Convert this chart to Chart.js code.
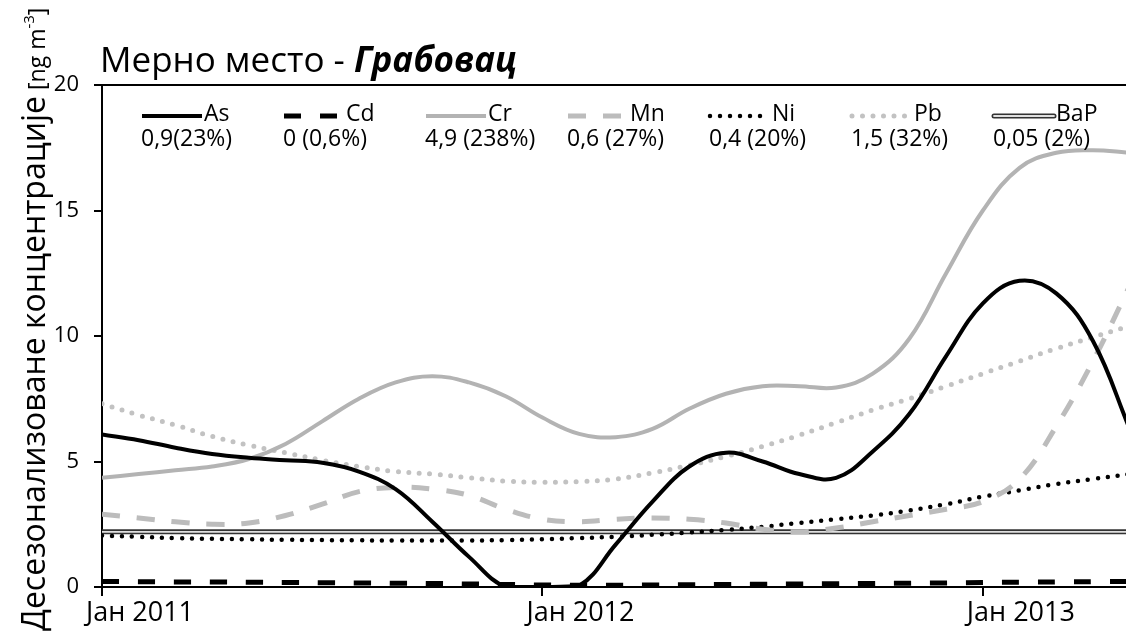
<!DOCTYPE html>
<html>
<head>
<meta charset="utf-8">
<script src="https://cdn.jsdelivr.net/npm/chart.js@4.4.1/dist/chart.umd.min.js"></script>
<style>
  html, body { margin: 0; padding: 0; background: #fff; }
  #wrap { width: 1126px; height: 631px; }
</style>
</head>
<body>
<div id="wrap"><canvas id="grabovac" width="1126" height="631"></canvas></div>
<script>
/* months since Jan 2011 */
const months = [0, 1, 2, 3, 4, 5, 6, 7, 8, 9, 10, 11, 12, 13, 14, 15, 16, 17, 18, 19, 20, 21, 22, 23, 24, 25, 26, 27, 28];
const tickMonths = [0, 12, 24];
const tickLabels = ['Јан 2011', 'Јан 2012', 'Јан 2013'];

const seriesNames = ['As', 'Cd', 'Cr', 'Mn', 'Ni', 'Pb', 'BaP'];
const legendValues = ['0,9(23%)', '0 (0,6%)', '4,9 (238%)', '0,6 (27%)', '0,4 (20%)', '1,5 (32%)', '0,05 (2%)'];

const asValues = [6.08, 5.85, 5.55, 5.3, 5.15, 5.05, 4.95, 4.6, 3.9, 2.6, 1.2, 0, 0, 0.05, 1.7, 3.4, 4.8, 5.35, 5.0, 4.5, 4.35, 5.4, 6.9, 9.2, 11.3, 12.2, 11.7, 9.8, 6.3];
const cdValues = [0.22, 0.21, 0.2, 0.2, 0.19, 0.18, 0.17, 0.16, 0.15, 0.14, 0.12, 0.1, 0.08, 0.07, 0.07, 0.08, 0.09, 0.1, 0.11, 0.12, 0.13, 0.14, 0.15, 0.16, 0.18, 0.19, 0.2, 0.21, 0.22];
const crValues = [4.35, 4.5, 4.65, 4.8, 5.1, 5.7, 6.6, 7.5, 8.15, 8.4, 8.15, 7.6, 6.75, 6.1, 5.97, 6.3, 7.1, 7.7, 8.0, 8.0, 7.95, 8.5, 9.9, 12.5, 15.0, 16.7, 17.3, 17.4, 17.3];
const mnValues = [2.9, 2.75, 2.6, 2.5, 2.55, 2.85, 3.3, 3.8, 3.97, 3.9, 3.65, 3.1, 2.7, 2.6, 2.7, 2.75, 2.7, 2.55, 2.3, 2.2, 2.35, 2.6, 2.85, 3.1, 3.4, 4.3, 6.4, 9.0, 12.0];
const niValues = [2.05, 2.0, 1.95, 1.92, 1.9, 1.88, 1.87, 1.86, 1.85, 1.85, 1.85, 1.87, 1.9, 1.95, 2.0, 2.08, 2.17, 2.27, 2.4, 2.55, 2.7, 2.85, 3.05, 3.3, 3.6, 3.85, 4.1, 4.3, 4.5];
const pbValues = [7.3, 6.85, 6.45, 6.0, 5.65, 5.35, 5.05, 4.8, 4.6, 4.5, 4.35, 4.22, 4.17, 4.2, 4.3, 4.55, 4.85, 5.2, 5.6, 6.05, 6.55, 7.05, 7.5, 8.0, 8.5, 9.0, 9.5, 9.95, 10.4];
const bapValues = [2.2, 2.2, 2.2, 2.2, 2.2, 2.2, 2.2, 2.2, 2.2, 2.2, 2.2, 2.2, 2.2, 2.2, 2.2, 2.2, 2.2, 2.2, 2.2, 2.2, 2.2, 2.2, 2.2, 2.2, 2.2, 2.2, 2.2, 2.2, 2.2];

const FONT = "'Open Sans', 'Noto Sans', sans-serif";

function pts(values) {
    return months.map((m, i) => ({ x: m, y: values[i] }));
}

function line(label, values, color, width, dash, cap, order) {
    return {
        label: label,
        data: pts(values),
        borderColor: color,
        borderWidth: width,
        borderDash: dash,
        borderCapStyle: cap || 'butt',
        fill: false,
        pointRadius: 0,
        tension: 0.4,
        order: order || 0
    };
}

/* titles + custom two line legend */
const decorPlugin = {
    id: 'decor',
    afterDraw(chart) {
        const ctx = chart.ctx;
        ctx.save();
        ctx.fillStyle = '#000';
        ctx.textBaseline = 'alphabetic';

        // title
        ctx.font = '35px ' + FONT;
        const t1 = 'Мерно место - ';
        ctx.fillText(t1, 100, 72);
        const w1 = ctx.measureText(t1).width;
        ctx.font = 'italic bold 35px ' + FONT;
        ctx.fillText('Грабовац', 100 + w1, 72);

        // y axis title, rotated
        ctx.save();
        ctx.translate(45, 631);
        ctx.rotate(-Math.PI / 2);
        ctx.font = '32px ' + FONT;
        const a = 'Десезонализоване концентрације';
        ctx.fillText(a, 0, 0);
        let x = ctx.measureText(a).width;
        ctx.font = '23px ' + FONT;
        const b = ' [ng m';
        ctx.fillText(b, x, 0);
        x += ctx.measureText(b).width;
        ctx.font = '15px ' + FONT;
        ctx.fillText('-3', x, -11);
        x += ctx.measureText('-3').width;
        ctx.font = '23px ' + FONT;
        ctx.fillText(']', x, 0);
        ctx.restore();

        // legend
        const ds = chart.data.datasets;
        const rowY = 116;
        for (let i = 0; i < seriesNames.length; i++) {
            const d = ds[i];
            const x0 = 142 + i * 142;
            const x1 = x0 + 60;
            ctx.save();
            ctx.beginPath();
            ctx.moveTo(x0, rowY);
            ctx.lineTo(x1, rowY);
            ctx.strokeStyle = d.borderColor;
            ctx.lineWidth = d.borderWidth;
            ctx.lineCap = d.borderCapStyle;
            ctx.setLineDash(d.borderDash || []);
            ctx.stroke();
            if (seriesNames[i] === 'BaP') {
                const inner = ds[ds.length - 1];
                ctx.beginPath();
                ctx.moveTo(x0, rowY);
                ctx.lineTo(x1, rowY);
                ctx.strokeStyle = inner.borderColor;
                ctx.lineWidth = inner.borderWidth;
                ctx.stroke();
            }
            ctx.restore();
            ctx.font = '23px ' + FONT;
            ctx.textBaseline = 'middle';
            ctx.fillText(seriesNames[i], x1 + 2, rowY - 2);
            ctx.fillText(legendValues[i], x0 - 1, rowY + 23);
        }
        ctx.restore();
    }
};

const ctx1 = document.getElementById('grabovac').getContext('2d');
const chartGrabovac = new Chart(ctx1, {
    type: 'line',
    data: {
        datasets: [
            line('As', asValues, '#000000', 4, []),
            line('Cd', cdValues, '#000000', 5, [17, 19]),
            line('Cr', crValues, '#b3b3b3', 4, []),
            line('Mn', mnValues, '#bcbcbc', 5, [18, 17]),
            line('Ni', niValues, '#000000', 4.5, [0, 10], 'round'),
            line('Pb', pbValues, '#c2c2c2', 5, [0, 10.5], 'round'),
            line('BaP', bapValues, '#333333', 5, [], 'round', 2),
            line('BaP inner', bapValues, '#e0e0e0', 1.8, [], 'round', 1)
        ]
    },
    options: {
        responsive: false,
        animation: false,
        layout: { padding: { top: 85, left: 0, right: 0, bottom: 0 } },
        plugins: {
            legend: { display: false },
            tooltip: { enabled: false }
        },
        scales: {
            x: {
                type: 'linear',
                min: 0,
                max: 27.9,
                afterBuildTicks: (s) => { s.ticks = tickMonths.map(v => ({ value: v })); },
                afterFit: (s) => { s.height = 44; },
                ticks: {
                    autoSkip: false,
                    maxRotation: 0,
                    color: '#000',
                    font: { family: FONT, size: 27 },
                    padding: 1,
                    labelOffset: 38,
                    callback: (v) => tickLabels[tickMonths.indexOf(v)]
                },
                grid: {
                    drawOnChartArea: false,
                    color: '#000',
                    lineWidth: 2,
                    tickLength: 9
                },
                border: { color: '#000', width: 2 }
            },
            y: {
                min: 0,
                max: 20,
                afterFit: (s) => { s.width = 102; },
                ticks: {
                    stepSize: 5,
                    color: '#000',
                    font: { family: FONT, size: 22 },
                    padding: 15
                },
                grid: {
                    color: (c) => (c.tick && c.tick.value === 20 ? '#000' : 'rgba(0,0,0,0)'),
                    tickColor: '#000',
                    lineWidth: 2,
                    tickLength: 8
                },
                border: { color: '#000', width: 2 }
            }
        }
    },
    plugins: [decorPlugin]
});
</script>
</body>
</html>
